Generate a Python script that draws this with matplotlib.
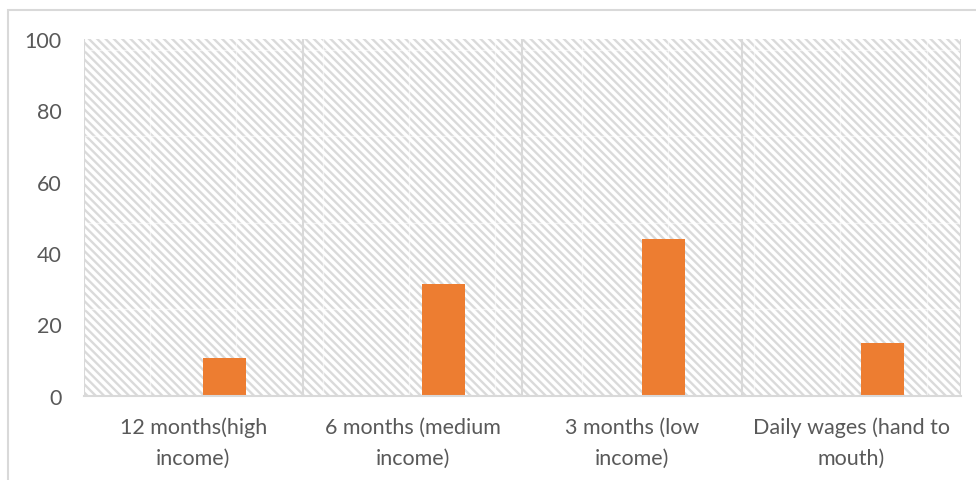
import numpy as np
import matplotlib.pyplot as plt
from matplotlib.patches import Rectangle

# share of respondents by how long savings would last
categories = ['12 months(high\nincome)', '6 months (medium\nincome)',
              '3 months (low\nincome)', 'Daily wages (hand to\nmouth)']
values = [10.5, 31.3, 43.9, 14.7]
yticks = [0, 20, 40, 60, 80, 100]

text_grey = '#595959'
line_grey = '#d9d9d9'
orange = '#ED7D31'

plt.rcParams['font.family'] = ['Lato', 'DejaVu Sans']
plt.rcParams['hatch.linewidth'] = 1.7

fig = plt.figure(figsize=(9.76, 4.81), dpi=100)
W, H = 976, 481
ax = fig.add_axes([83.5 / W, 1 - 396.7 / H, (961 - 83.5) / W, (396.7 - 40) / H])

# chart area border (only left and top edges fall inside the image)
fig.add_artist(Rectangle((7.5 / W, -0.05), 1.2, 1 - 10.5 / H + 0.05,
                         transform=fig.transFigure, facecolor='none',
                         edgecolor=line_grey, lw=1.5))

# hatched plot area
ax.add_patch(Rectangle((0, 0), 1, 1, transform=ax.transAxes, facecolor='white',
                       edgecolor='#dadada', lw=0, hatch='\\\\\\\\', zorder=0))

# light seams where the pattern tiles meet
tile = 86.3
for xp in np.arange(150, 961, tile):
    f = (xp - 83.5) / (961 - 83.5)
    ax.plot([f, f], [0, 1], transform=ax.transAxes, color='white', lw=1.0,
            alpha=0.6, zorder=0.5)
for yp in np.arange(51, 396, tile):
    f = (396.7 - yp) / (396.7 - 40)
    ax.plot([0, 1], [f, f], transform=ax.transAxes, color='white', lw=1.0,
            alpha=0.6, zorder=0.5)

x = np.arange(len(categories))
for b in np.arange(len(categories) + 1) - 0.5:
    ax.axvline(b, color=line_grey, lw=1.5, zorder=1)

ax.bar(x + 0.143, values, width=0.196, color=orange, zorder=2)

ax.set_xlim(-0.5, len(categories) - 0.5)
ax.set_ylim(0, 100)
ax.set_yticks(yticks)
ax.set_xticks(x)
ax.set_xticklabels(categories, linespacing=1.68)
ax.tick_params(axis='both', length=0, labelsize=15.5, colors=text_grey)
ax.tick_params(axis='y', pad=16)
ax.tick_params(axis='x', pad=15)

for side in ['top', 'right', 'left']:
    ax.spines[side].set_visible(False)
ax.spines['bottom'].set_color(line_grey)
ax.spines['bottom'].set_linewidth(1.5)
ax.set_facecolor('white')

fig.savefig('out.png', dpi=100)
